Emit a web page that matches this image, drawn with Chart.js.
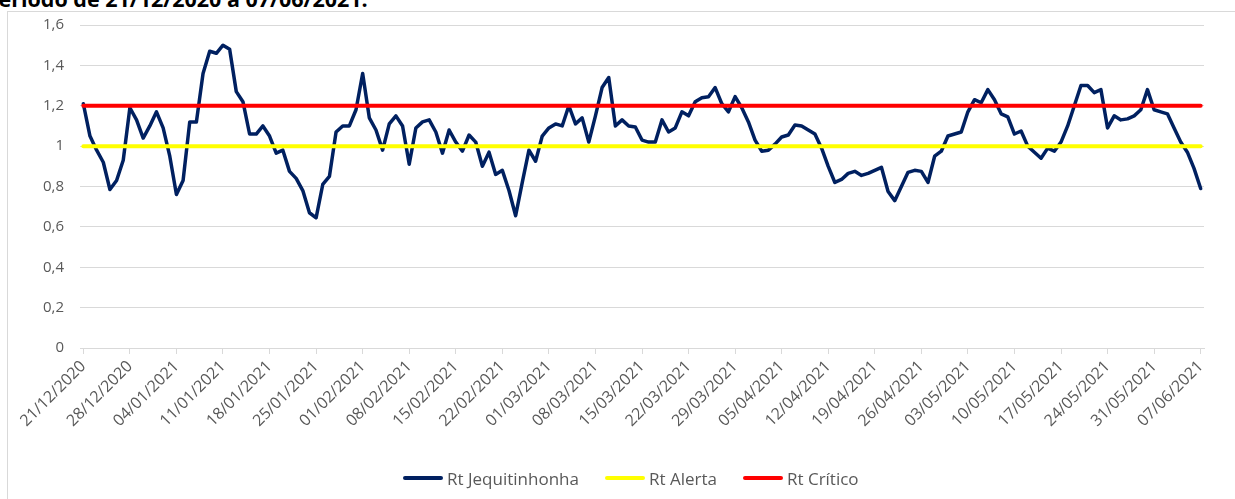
<!DOCTYPE html>
<html>
<head>
<meta charset="utf-8">
<script src="https://cdn.jsdelivr.net/npm/chart.js@4.4.1/dist/chart.umd.min.js"></script>
<style>
	html, body { margin: 0; padding: 0; background: #fff; overflow: hidden; }
	#wrap { position: relative; width: 1235px; height: 499px; overflow: hidden; }
	#frame { position: absolute; left: 7px; top: 11px; width: 1400px; height: 600px; border: 1px solid #d9d9d9; }
	#title { position: absolute; left: -15px; top: -16px; font: bold 21.5px "Open Sans"; white-space: nowrap; color: #000; }
	canvas { position: absolute; left: 0; top: 0; }
	#legend { position: absolute; left: 403px; top: 466px; height: 24px; display: flex; align-items: center; font: 17px "Open Sans"; color: #595959; white-space: nowrap; }
	#legend .item { display: flex; align-items: center; margin-right: 26px; }
	#legend .swatch { width: 40px; height: 4px; border-radius: 2px; margin-right: 4px; }
</style>
</head>
<body>
<div id="wrap">
	<div id="frame"></div>
	<div id="title">Período de 21/12/2020 a 07/06/2021.</div>
	<canvas id="chart" width="1235" height="499"></canvas>
	<div id="legend"></div>
</div>
<script>
// Rt diário, 21/12/2020 a 07/06/2021
const rtJequitinhonha = [
	1.21, 1.05, 0.98, 0.92, 0.785, 0.83, 0.93, 1.19, 1.13, 1.04,
	1.10, 1.17, 1.09, 0.95, 0.76, 0.83, 1.12, 1.12, 1.36, 1.47,
	1.46, 1.50, 1.48, 1.27, 1.22, 1.06, 1.06, 1.10, 1.05, 0.965,
	0.98, 0.875, 0.84, 0.78, 0.67, 0.645, 0.81, 0.85, 1.07, 1.10,
	1.10, 1.18, 1.36, 1.14, 1.08, 0.98, 1.11, 1.15, 1.10, 0.91,
	1.09, 1.12, 1.13, 1.07, 0.965, 1.08, 1.02, 0.975, 1.055, 1.02,
	0.90, 0.97, 0.86, 0.88, 0.78, 0.655, 0.82, 0.98, 0.925, 1.05,
	1.09, 1.11, 1.10, 1.20, 1.11, 1.14, 1.02, 1.15, 1.29, 1.34,
	1.10, 1.13, 1.10, 1.095, 1.03, 1.02, 1.02, 1.13, 1.07, 1.09,
	1.17, 1.15, 1.22, 1.24, 1.245, 1.29, 1.21, 1.17, 1.245, 1.19,
	1.12, 1.03, 0.975, 0.98, 1.01, 1.045, 1.055, 1.105, 1.10, 1.08,
	1.06, 0.99, 0.90, 0.82, 0.835, 0.865, 0.875, 0.855, 0.865, 0.88,
	0.895, 0.775, 0.73, 0.80, 0.87, 0.88, 0.875, 0.82, 0.95, 0.975,
	1.05, 1.06, 1.07, 1.17, 1.23, 1.215, 1.28, 1.23, 1.16, 1.145,
	1.06, 1.075, 1.00, 0.97, 0.94, 0.99, 0.975, 1.02, 1.10, 1.20,
	1.30, 1.30, 1.265, 1.28, 1.09, 1.15, 1.13, 1.135, 1.15, 1.18,
	1.28, 1.18, 1.17, 1.16, 1.09, 1.02, 0.97, 0.89, 0.79
];
const rtAlertaValue = 1;
const rtCriticoValue = 1.2;
const firstDate = new Date(2020, 11, 21);
const tickStep = 7;
const yTicks = [0, 0.2, 0.4, 0.6, 0.8, 1, 1.2, 1.4, 1.6];

const pad = n => String(n).padStart(2, "0");
const dates = rtJequitinhonha.map((v, i) => {
	const d = new Date(firstDate);
	d.setDate(d.getDate() + i);
	return pad(d.getDate()) + "/" + pad(d.getMonth() + 1) + "/" + d.getFullYear();
});
const rtAlerta = dates.map(() => rtAlertaValue);
const rtCritico = dates.map(() => rtCriticoValue);

const gray = "#595959";
const gridGray = "#d9d9d9";

const chart = new Chart(document.getElementById("chart"), {
	type: "line",
	data: {
		labels: dates,
		datasets: [
			{ label: "Rt Jequitinhonha", data: rtJequitinhonha, borderColor: "#002060", backgroundColor: "#002060", borderWidth: 3.5, order: 2 },
			{ label: "Rt Alerta", data: rtAlerta, borderColor: "#ffff00", backgroundColor: "#ffff00", borderWidth: 4, order: 1 },
			{ label: "Rt Crítico", data: rtCritico, borderColor: "#ff0000", backgroundColor: "#ff0000", borderWidth: 4, order: 0 }
		]
	},
	options: {
		responsive: false,
		animation: false,
		devicePixelRatio: 1,
		layout: { padding: { top: 22, right: 31, left: 0, bottom: 55 } },
		elements: {
			point: { radius: 0 },
			line: { tension: 0, borderCapStyle: "round", borderJoinStyle: "round" }
		},
		scales: {
			x: {
				offset: true,
				grid: { drawOnChartArea: false, color: gridGray, tickLength: 6 },
				border: { color: gridGray },
				ticks: {
					autoSkip: false,
					minRotation: 45,
					maxRotation: 45,
					color: gray,
					font: { family: "Open Sans", size: 16 },
					callback: function(value, index) {
						return index % tickStep === 0 ? dates[index] : null;
					}
				},
				afterFit: scale => { scale.height = 96; }
			},
			y: {
				min: 0,
				max: 1.6,
				afterBuildTicks: scale => { scale.ticks = yTicks.map(v => ({ value: v })); },
				grid: { color: gridGray, drawTicks: false },
				border: { display: false },
				ticks: {
					color: gray,
					padding: 16,
					font: { family: "Open Sans", size: 15 },
					callback: v => String(Number(v.toFixed(1))).replace(".", ",")
				},
				afterFit: scale => { scale.width = 80; }
			}
		},
		plugins: {
			tooltip: { enabled: false },
			legend: { display: false }
		}
	}
});

// legend built from the chart's own legend items, placed like the original
const legendBox = document.getElementById("legend");
chart.options.plugins.legend.labels.generateLabels(chart)
	.sort((a, b) => a.datasetIndex - b.datasetIndex)
	.forEach(item => {
		const el = document.createElement("div");
		el.className = "item";
		const sw = document.createElement("span");
		sw.className = "swatch";
		sw.style.background = item.strokeStyle;
		el.appendChild(sw);
		el.appendChild(document.createTextNode(item.text));
		legendBox.appendChild(el);
	});
</script>
</body>
</html>
